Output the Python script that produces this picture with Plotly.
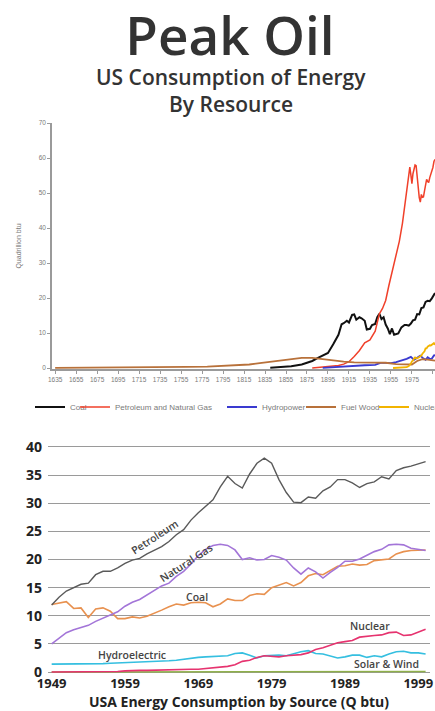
import plotly.graph_objects as go

W, H = 435, 711

# ---------------- Top chart data (quadrillion btu, selected years) ----------------
top_tick_years = list(range(1635, 1996, 20))

wood_years = [1635, 1660, 1680, 1700, 1720, 1740, 1760, 1780, 1800, 1810, 1820, 1830, 1840,
              1850, 1860, 1870, 1880, 1885, 1890, 1900, 1910, 1920, 1930, 1940, 1950, 1960,
              1970, 1975, 1980, 1985, 1990, 1995, 1997]
wood_q = [0.02, 0.04, 0.06, 0.1, 0.15, 0.2, 0.3, 0.4, 0.6, 0.8, 1.0, 1.4, 1.8,
          2.1, 2.6, 2.9, 2.9, 2.7, 2.5, 2.0, 1.8, 1.6, 1.5, 1.4, 1.5, 1.1,
          0.9, 1.0, 2.0, 2.5, 2.4, 2.2, 2.1]

coal_years = [1840, 1850, 1860, 1870, 1875, 1880, 1885, 1890, 1895, 1900, 1905, 1908, 1910,
              1913, 1915, 1918, 1920, 1922, 1925, 1927, 1930, 1932, 1935, 1937, 1940, 1942,
              1944, 1946, 1948, 1950, 1952, 1954, 1956, 1958, 1960, 1962, 1965, 1968, 1970,
              1972, 1974, 1976, 1978, 1980, 1982, 1984, 1986, 1988, 1990, 1992, 1994, 1996, 1997]
coal_q = [0.1, 0.2, 0.5, 1.0, 1.4, 2.0, 2.8, 3.5, 4.3, 6.8, 9.5, 12.5, 12.8,
          13.5, 13.0, 15.2, 15.3, 13.8, 14.5, 14.2, 13.5, 11.0, 11.2, 12.3, 12.6, 14.5,
          15.5, 14.0, 14.5, 12.4, 11.3, 9.7, 11.3, 9.5, 9.8, 9.9, 11.6, 12.3, 12.3,
          12.1, 12.7, 13.6, 13.8, 15.4, 15.3, 17.1, 17.3, 18.9, 19.2, 19.1, 19.9, 21.0, 21.4]

oilgas_years = [1880, 1890, 1900, 1905, 1910, 1915, 1920, 1925, 1930, 1935, 1940, 1944, 1947,
                1950, 1953, 1956, 1960, 1963, 1966, 1968, 1970, 1972, 1973, 1974, 1975, 1976,
                1977, 1978, 1979, 1980, 1981, 1982, 1983, 1984, 1985, 1986, 1987, 1988, 1989,
                1990, 1991, 1992, 1993, 1994, 1995, 1996, 1997]
oilgas_q = [0.0, 0.3, 0.5, 0.7, 1.1, 1.8, 3.3, 5.0, 7.2, 8.0, 10.5, 15.5, 17.0,
            19.3, 23.5, 27.5, 32.3, 36.2, 41.4, 46.2, 51.3, 55.7, 57.4, 55.2, 52.7, 55.5,
            57.1, 58.0, 57.8, 54.6, 51.9, 48.7, 47.4, 49.6, 48.8, 48.9, 50.6, 52.8, 53.9,
            53.3, 53.0, 54.4, 55.2, 56.5, 57.3, 59.0, 59.6]

hydro_years = [1890, 1900, 1910, 1920, 1930, 1940, 1945, 1950, 1955, 1960, 1965, 1970, 1974,
               1977, 1980, 1983, 1985, 1988, 1990, 1992, 1994, 1996, 1997]
hydro_q = [0.02, 0.25, 0.54, 0.74, 0.79, 0.88, 1.44, 1.44, 1.41, 1.66, 2.06, 2.63, 3.18,
           2.33, 2.90, 3.53, 2.97, 2.33, 3.05, 2.62, 2.68, 3.59, 3.64]

nuclear_years = [1957, 1960, 1965, 1968, 1970, 1972, 1973, 1974, 1975, 1976, 1977, 1978, 1979,
                 1980, 1982, 1984, 1985, 1986, 1987, 1988, 1989, 1990, 1991, 1992, 1993, 1994,
                 1995, 1996, 1997]
nuclear_q = [0.0, 0.01, 0.04, 0.14, 0.24, 0.58, 0.91, 1.27, 1.90, 2.11, 2.70, 3.02, 2.78,
             2.74, 3.13, 3.55, 4.08, 4.38, 4.75, 5.59, 5.60, 6.10, 6.42, 6.48, 6.41, 6.69,
             7.08, 7.09, 6.60]

# ---------------- Bottom chart data (1949-2000, Q btu) ----------------
years = list(range(1949, 2001))
bottom_ticks = [1949, 1959, 1969, 1979, 1989, 1999]

petroleum = [11.9, 13.3, 14.4, 15.0, 15.6, 15.8, 17.3, 17.9, 17.9, 18.5,
             19.3, 19.9, 20.2, 21.0, 21.7, 22.3, 23.2, 24.4, 25.3, 27.0,
             28.3, 29.5, 30.6, 32.9, 34.8, 33.5, 32.7, 35.2, 37.1, 38.0,
             37.1, 34.2, 31.9, 30.2, 30.1, 31.1, 30.9, 32.2, 32.9, 34.2,
             34.2, 33.6, 32.8, 33.5, 33.8, 34.7, 34.3, 35.8, 36.3, 36.6,
             37.0, 37.4]
natural_gas = [5.0, 6.0, 7.0, 7.5, 7.9, 8.3, 9.0, 9.6, 10.2, 10.7,
               11.7, 12.4, 12.9, 13.7, 14.4, 15.3, 15.8, 17.0, 17.9, 19.2,
               20.7, 21.8, 22.5, 22.7, 22.5, 21.7, 20.0, 20.3, 19.9, 20.0,
               20.7, 20.4, 19.9, 18.5, 17.4, 18.5, 17.8, 16.7, 17.7, 18.6,
               19.7, 19.7, 20.1, 20.8, 21.4, 21.8, 22.6, 22.7, 22.6, 22.0,
               21.8, 21.6]
coal = [12.0, 12.3, 12.5, 11.3, 11.4, 9.7, 11.2, 11.4, 10.8, 9.5,
        9.5, 9.8, 9.6, 9.9, 10.4, 11.0, 11.6, 12.1, 11.9, 12.3,
        12.4, 12.3, 11.6, 12.1, 13.0, 12.7, 12.7, 13.6, 13.9, 13.8,
        15.0, 15.4, 15.9, 15.3, 15.9, 17.1, 17.5, 17.3, 18.0, 18.8,
        18.9, 19.2, 19.0, 19.1, 19.8, 19.9, 20.1, 21.0, 21.4, 21.6,
        21.6, 21.7]
nuclear = [0, 0, 0, 0, 0, 0, 0, 0, 0, 0.1,
           0.2, 0.3, 0.3, 0.3, 0.35, 0.35, 0.4, 0.4, 0.45, 0.5,
           0.5, 0.6, 0.7, 0.8, 1.0, 1.3, 1.9, 2.1, 2.6, 2.9,
           2.8, 2.7, 2.9, 3.0, 3.1, 3.4, 4.0, 4.3, 4.7, 5.2,
           5.4, 5.6, 6.2, 6.4, 6.5, 6.6, 7.0, 7.1, 6.5, 6.6,
           7.1, 7.6]
hydroelectric = [1.4, 1.4, 1.4, 1.45, 1.45, 1.45, 1.45, 1.5, 1.55, 1.6,
                 1.6, 1.65, 1.7, 1.8, 1.8, 1.9, 2.0, 2.1, 2.3, 2.4,
                 2.6, 2.7, 2.8, 2.85, 2.9, 3.3, 3.4, 3.0, 2.5, 2.9,
                 3.0, 3.0, 2.9, 3.3, 3.6, 3.8, 3.3, 3.2, 2.8, 2.5,
                 2.7, 3.0, 3.0, 2.6, 2.9, 2.7, 3.2, 3.6, 3.7, 3.4,
                 3.4, 3.2]
solar_wind = [0] * 21 + [0.02] * 10 + [0.05] * 10 + [0.1] * 11

# ---------------- helpers: window pixel -> paper fraction ----------------
def px_x(x):
    return x / W

def px_y(y):
    return 1 - y / H

fig = go.Figure()

GRAY_TXT = "#7a7a7a"

top_series = [
    ("Coal", coal_years, coal_q, "#111111", 2.0, "legend"),
    ("Petroleum and Natural Gas", oilgas_years, oilgas_q, "#f0402a", 1.5, "legend2"),
    ("Hydropower", hydro_years, hydro_q, "#3a3ad0", 1.8, "legend3"),
    ("Fuel Wood", wood_years, wood_q, "#b8713a", 1.8, "legend4"),
    ("Nuclear", nuclear_years, nuclear_q, "#f2b400", 1.8, "legend5"),
]
for name, xs, ys, col, w, lg in top_series:
    fig.add_trace(go.Scatter(x=xs, y=ys, mode="lines", name=name,
                             line=dict(color=col, width=w),
                             xaxis="x", yaxis="y", legend=lg, showlegend=True))

bottom_series = [
    ("Solar & Wind", solar_wind, "#8fb04a", 1.5),
    ("Hydroelectric", hydroelectric, "#35bfe0", 1.6),
    ("Nuclear", nuclear, "#e6336f", 1.6),
    ("Coal", coal, "#e8914f", 1.6),
    ("Natural Gas", natural_gas, "#a375d8", 1.6),
    ("Petroleum", petroleum, "#5a5a5a", 1.4),
]
for name, ys, col, w in bottom_series:
    fig.add_trace(go.Scatter(x=years, y=ys, mode="lines", name=name,
                             line=dict(color=col, width=w),
                             xaxis="x2", yaxis="y2", showlegend=False))

legend_x_px = {"legend": 30, "legend2": 75, "legend3": 222, "legend4": 301, "legend5": 374}
legend_common = dict(orientation="h", yanchor="middle", y=px_y(407), xanchor="left",
                     font=dict(family="Liberation Sans, Arial", size=8, color=GRAY_TXT),
                     bgcolor="rgba(0,0,0,0)", itemwidth=30, borderwidth=0)
legends = {k: dict(legend_common, x=px_x(v)) for k, v in legend_x_px.items()}

axis_gray = "#9a9a9a"

labels = [
    ("Petroleum", 1963.0, 24.0, -33),
    ("Natural Gas", 1967.3, 19.4, -33),
    ("Coal", 1968.8, 13.3, 0),
    ("Nuclear", 1992.4, 8.2, 0),
    ("Hydroelectric", 1960.0, 3.0, 0),
    ("Solar & Wind", 1994.6, 1.4, 0),
]
annotations = [
    dict(text="US Consumption of Energy", x=px_x(231), y=px_y(77), xref="paper", yref="paper",
         showarrow=False, xanchor="center", yanchor="middle",
         font=dict(family="Open Sans", size=21, color="#333333", weight=600)),
    dict(text="By Resource", x=px_x(231), y=px_y(104), xref="paper", yref="paper",
         showarrow=False, xanchor="center", yanchor="middle",
         font=dict(family="Open Sans", size=21, color="#333333", weight=600)),
]
for txt, xv, yv, ang in labels:
    annotations.append(dict(text=txt, x=xv, y=yv, xref="x2", yref="y2", showarrow=False,
                            textangle=ang, xanchor="center", yanchor="middle",
                            font=dict(family="Open Sans", size=10.5, color="#444444", weight=600)))

fig.update_layout(
    width=W, height=H,
    margin=dict(l=0, r=0, t=0, b=0, autoexpand=False),
    paper_bgcolor="white", plot_bgcolor="white",
    title=dict(text="Peak Oil", x=px_x(230), xanchor="center", y=px_y(36), yanchor="middle",
               yref="container",
               font=dict(family="Open Sans", size=53, color="#333333", weight=600)),
    xaxis=dict(domain=[px_x(52), 1.0], range=[1632, 1997], anchor="y",
               tickmode="array", tickvals=top_tick_years, ticktext=[str(v) for v in top_tick_years],
               tickfont=dict(family="Liberation Sans, Arial", size=6.5, color=GRAY_TXT),
               showline=True, linecolor=axis_gray, linewidth=1.5, ticks="outside",
               ticklen=3, tickcolor=axis_gray, showgrid=False, zeroline=False),
    yaxis=dict(domain=[px_y(369.05), px_y(123)], range=[-0.3, 70], anchor="x",
               tickmode="array", tickvals=list(range(0, 71, 10)),
               tickfont=dict(family="Liberation Sans, Arial", size=6.5, color=GRAY_TXT),
               showline=True, linecolor=axis_gray, linewidth=1.5, ticks="outside",
               ticklen=3, tickcolor=axis_gray, showgrid=False, zeroline=False,
               title=dict(text="Quadrillion btu", standoff=16,
                          font=dict(family="Liberation Sans, Arial", size=7, color=GRAY_TXT))),
    xaxis2=dict(domain=[px_x(48), px_x(430)], range=[1948.5, 2000.6], anchor="y2",
                tickmode="array", tickvals=bottom_ticks, ticklabeloverflow="allow",
                tickfont=dict(family="Open Sans", size=13, color="#222222", weight=700),
                showline=False, showgrid=False, zeroline=False, ticks="",
                title=dict(text="USA Energy Consumption by Source (Q btu)", standoff=1,
                           font=dict(family="Open Sans", size=14, color="#222222", weight=700))),
    yaxis2=dict(domain=[px_y(674), px_y(445)], range=[-0.35, 40.35], anchor="x2",
                tickmode="array", tickvals=list(range(0, 41, 5)), ticklabelstandoff=5,
                tickfont=dict(family="Open Sans", size=14, color="#222222", weight=700),
                showline=False, showgrid=True, gridcolor="#9a9a9a", gridwidth=1,
                zeroline=False, ticks=""),
    annotations=annotations,
    **legends,
)

# remove the browser's default 8px page margin so the 435x711 figure fills the window exactly
fig.write_html("out.html",
               config={"displayModeBar": False},
               post_script="document.body.style.margin='0';document.body.style.overflow='hidden';")
